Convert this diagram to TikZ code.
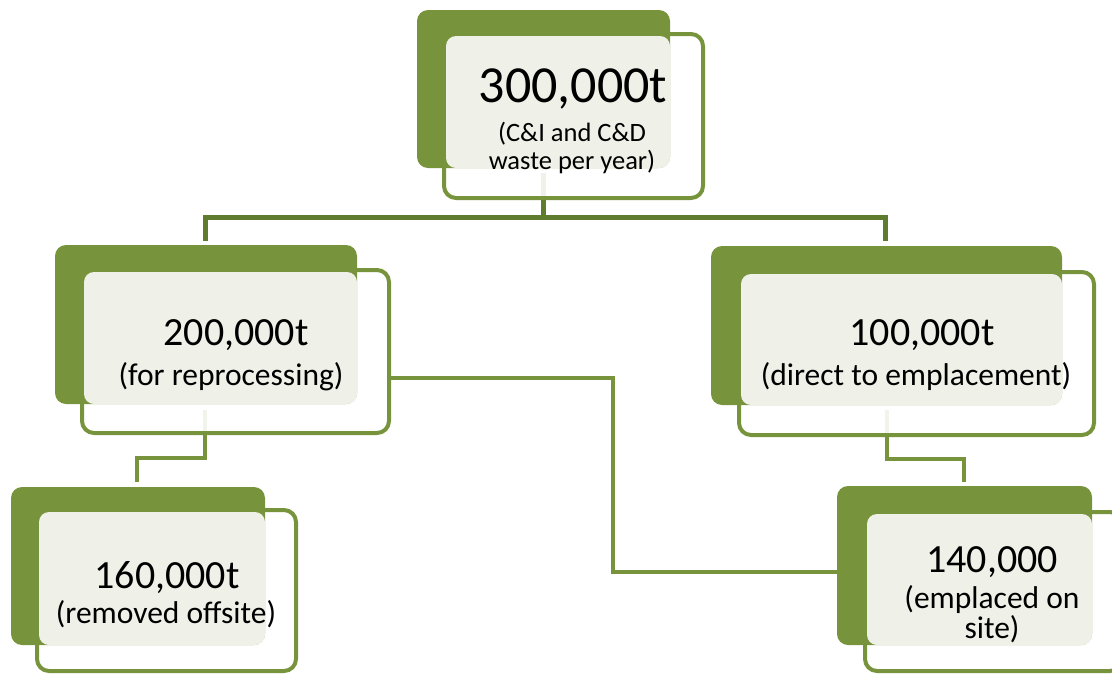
\documentclass[tikz,border=0pt]{standalone}
\usepackage{fontspec}
\setmainfont{Carlito}
\definecolor{olive}{HTML}{77933C}
\definecolor{olivedark}{HTML}{5E7B2E}
\definecolor{paper}{HTML}{EFF0E8}
\tikzset{
  backbox/.style={rectangle, rounded corners=11pt, fill=olive, draw=none, inner sep=0pt},
  frontbox/.style={rectangle, rounded corners=12pt, draw=olive, line width=4pt, fill=white, fill opacity=0.9, draw opacity=1, inner sep=0pt},
  textbox/.style={rectangle, rounded corners=10pt, fill=paper, draw=none, inner sep=0pt},
  link/.style={draw=olive, line width=4.5pt},
  toplink/.style={draw=olivedark, line width=5pt},
  big/.style={anchor=base, inner sep=0pt, font=\fontsize{40}{48}\selectfont},
  huge/.style={anchor=base, inner sep=0pt, font=\fontsize{52}{62}\selectfont},
  sub/.style={anchor=base, inner sep=0pt, font=\fontsize{31.5}{38}\selectfont},
  subsmall/.style={anchor=base, inner sep=0pt, font=\fontsize{26.5}{32}\selectfont},
}
\begin{document}
\begin{tikzpicture}[x=1pt,y=-1pt]
\useasboundingbox (0,0) rectangle (1112,675);
% connector end points
\coordinate (a0) at (543,173);
\coordinate (a1) at (543,217);
\coordinate (bl) at (205,217);
\coordinate (bt) at (205,241);
\coordinate (cr) at (885,217);
\coordinate (ct) at (885,241);
\coordinate (b0) at (205,410);
\coordinate (b1) at (205,458);
\coordinate (d1) at (137,458);
\coordinate (dt) at (137,482);
\coordinate (br) at (391,378);
\coordinate (m1) at (613,378);
\coordinate (m2) at (613,572);
\coordinate (el) at (838,572);
\coordinate (c0) at (887,410);
\coordinate (c1) at (887,459);
\coordinate (e1) at (964,459);
\coordinate (et) at (964,482);
% connectors (under the boxes)
\draw[toplink] (a0) -- (a1) -- (bl) -- (bt);
\draw[toplink] (a1) -- (cr) -- (ct);
\draw[link] (b0) -- (b1) -- (d1) -- (dt);
\draw[link] (br) -- (m1) -- (m2) -- (el);
\draw[link] (c0) -- (c1) -- (e1) -- (et);
% unit A
\node[frontbox, minimum width=259pt, minimum height=164pt] (Af) at (573.5,116) {};
\node[backbox, minimum width=253pt, minimum height=158pt] (Ab) at (543.5,89) {};
\node[textbox, minimum width=224pt, minimum height=132pt] (At) at (558,102) {};
% unit B
\node[frontbox, minimum width=307pt, minimum height=163pt] (Bf) at (235.5,351.5) {};
\node[backbox, minimum width=302pt, minimum height=159pt] (Bb) at (206,324.5) {};
\node[textbox, minimum width=273pt, minimum height=132pt] (Bt) at (220.5,338) {};
% unit C
\node[frontbox, minimum width=355pt, minimum height=163pt] (Cf) at (916.5,353.5) {};
\node[backbox, minimum width=351pt, minimum height=159pt] (Cb) at (886.5,325.5) {};
\node[textbox, minimum width=321pt, minimum height=131pt] (Ct) at (901.5,339.5) {};
% unit D
\node[frontbox, minimum width=259pt, minimum height=161pt] (Df) at (166.5,590.5) {};
\node[backbox, minimum width=254pt, minimum height=158pt] (Db) at (138,566) {};
\node[textbox, minimum width=226pt, minimum height=133pt] (Dt) at (152,578.5) {};
% unit E
\node[frontbox, minimum width=257pt, minimum height=159pt] (Ef) at (993.5,591.5) {};
\node[backbox, minimum width=255pt, minimum height=159pt] (Eb) at (964.5,565.5) {};
\node[textbox, minimum width=225pt, minimum height=131pt] (Et) at (979.5,579.5) {};
% texts
\node[huge] (A1) at (573,102) {300,000t};
\node[subsmall] (A2) at (572,141) {(C\&I and C\&D};
\node[subsmall] (A3) at (572,169) {waste per year)};
\node[big] (B1) at (236,345) {200,000t};
\node[sub] (B2) at (231,385) {(for reprocessing)};
\node[big] (C1) at (922,345) {100,000t};
\node[sub] (C2) at (916,385) {(direct to emplacement)};
\node[big] (D1) at (167,588) {160,000t};
\node[sub] (D2) at (166,623) {(removed offsite)};
\node[big] (E1) at (992,572) {140,000};
\node[sub] (E2) at (992,608) {(emplaced on};
\node[sub] (E3) at (992,638) {site)};
\end{tikzpicture}
\end{document}
